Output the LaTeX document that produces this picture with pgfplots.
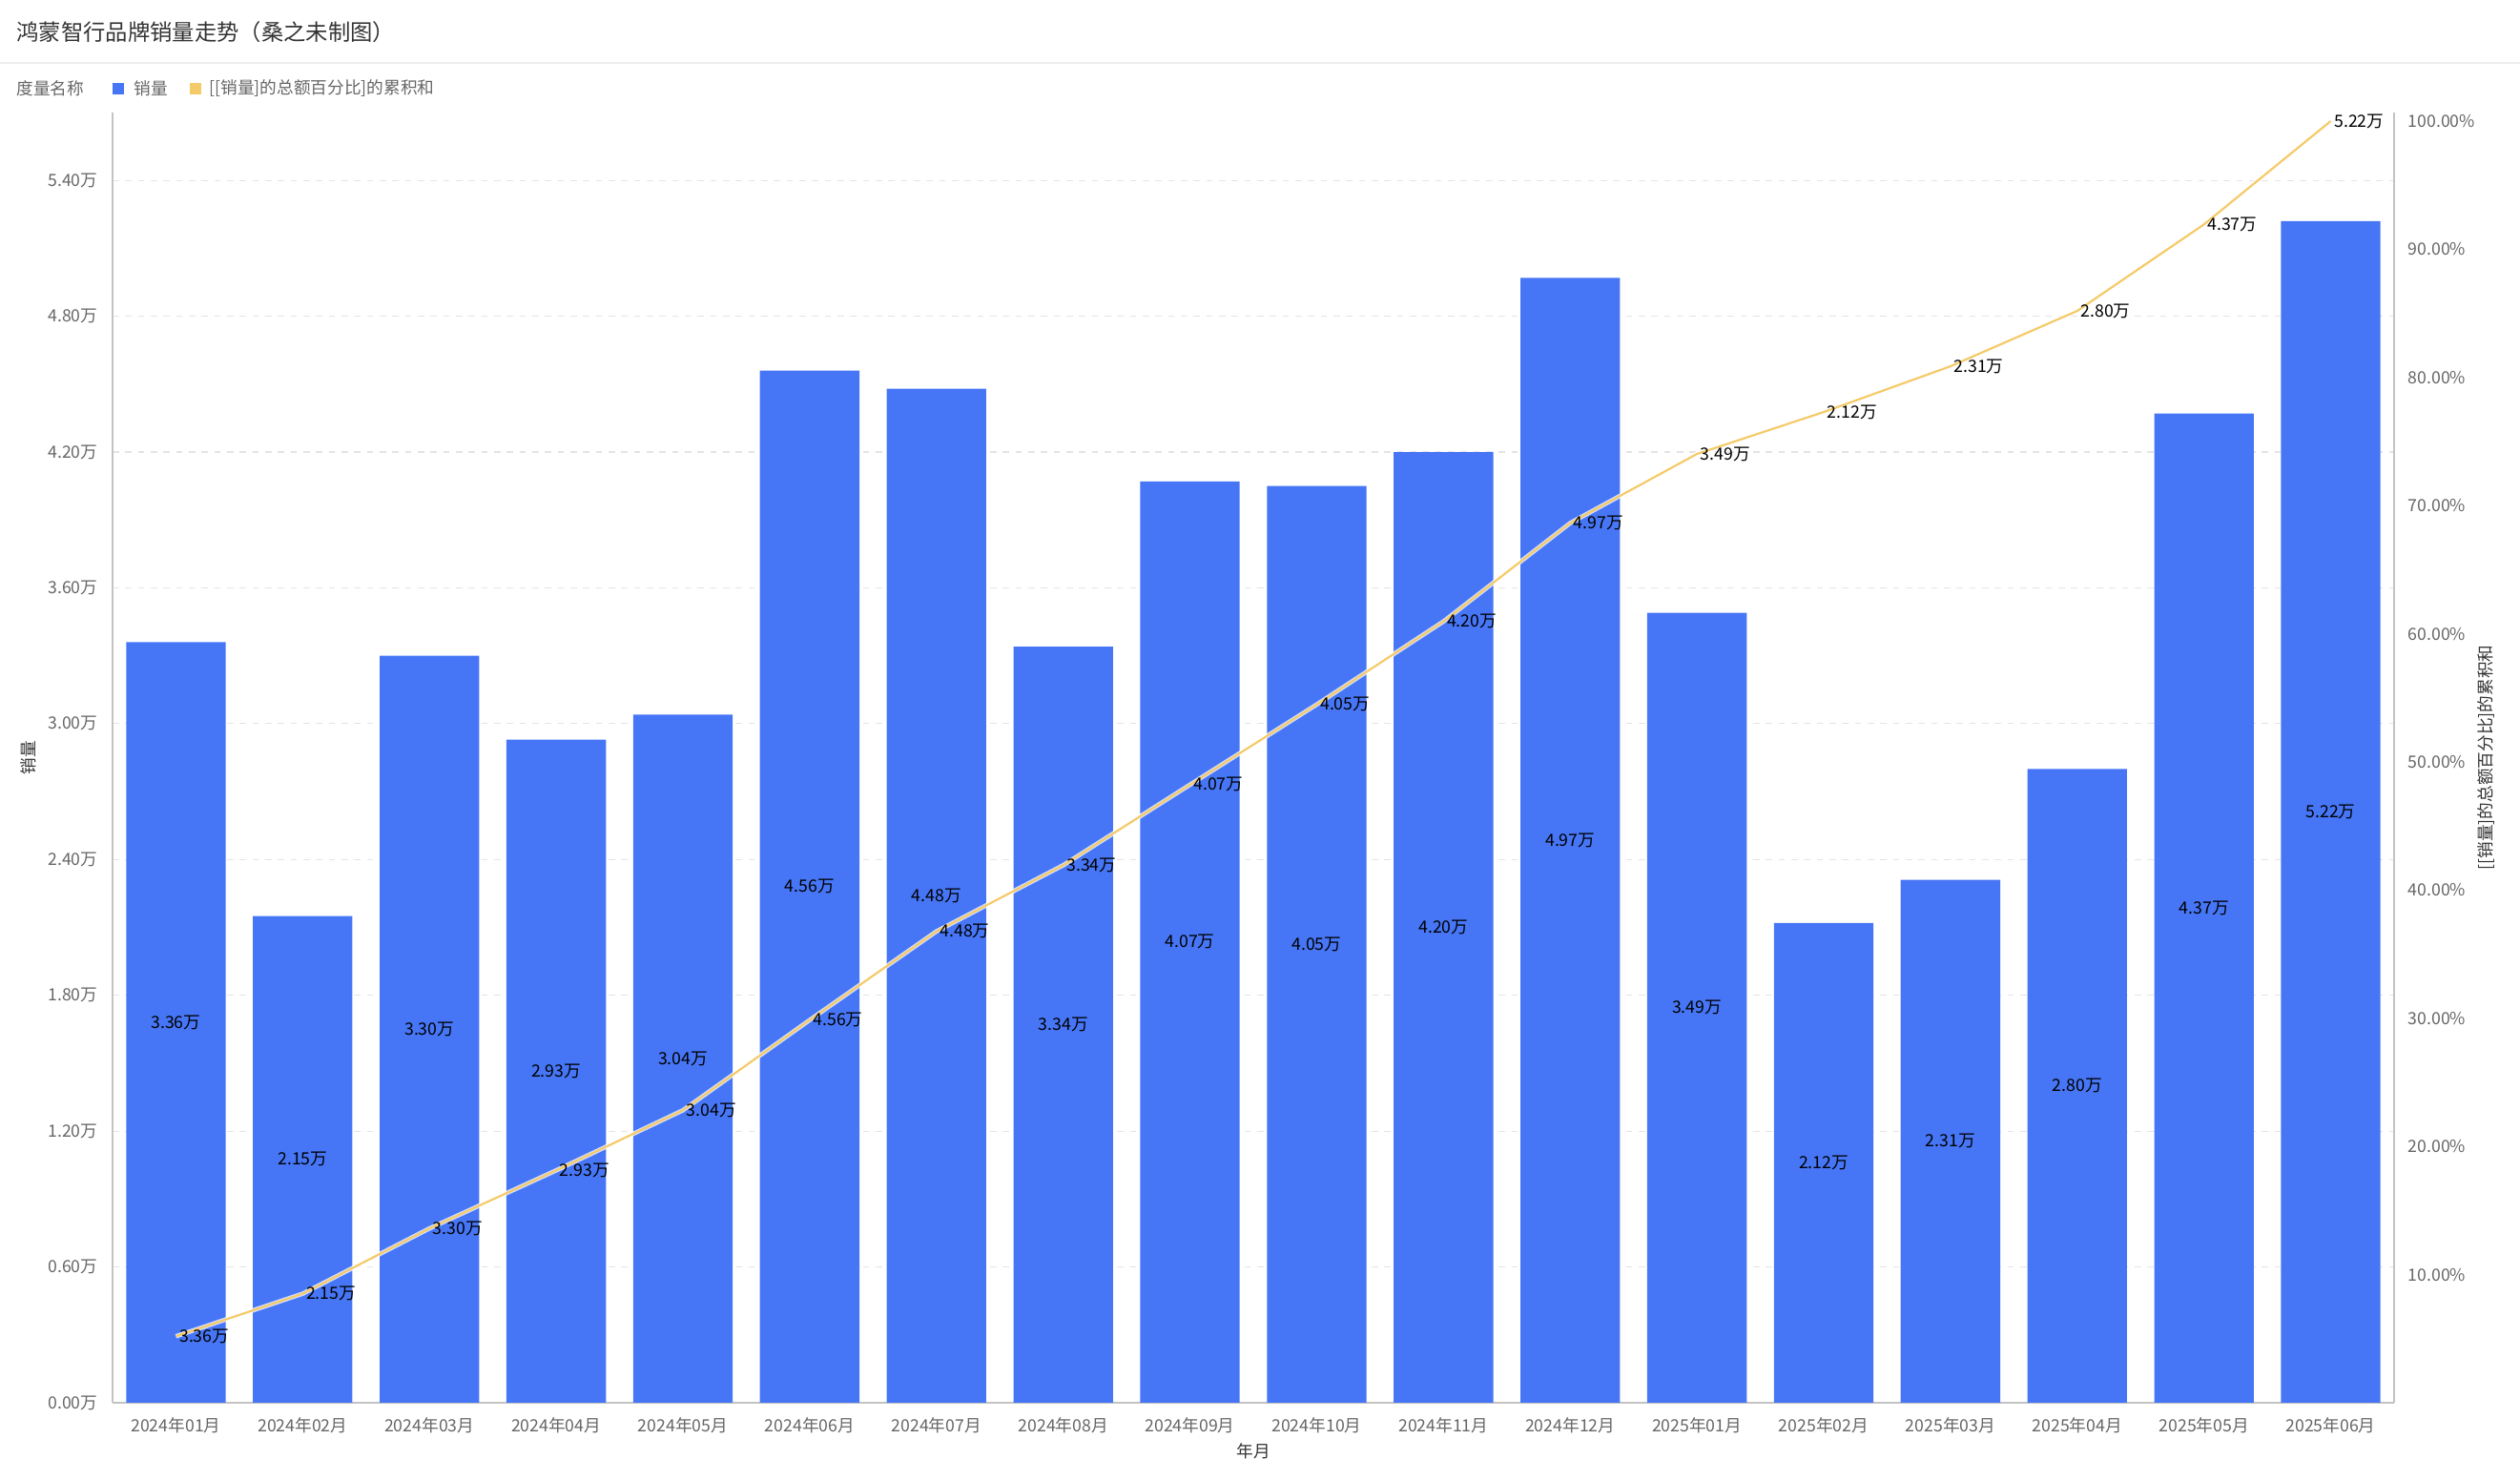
\documentclass[border=0pt]{standalone}
\usepackage{fontspec}
\setmainfont{Noto Sans CJK SC}
\usepackage{pgfplots}
\pgfplotsset{compat=1.18}
\definecolor{barblue}{RGB}{70,118,246}
\definecolor{lineyel}{RGB}{245,202,104}
\definecolor{tickgray}{RGB}{102,102,102}
\definecolor{titlegray}{RGB}{51,51,51}
\definecolor{axisgray}{RGB}{195,195,195}
\definecolor{gridgray}{RGB}{228,228,228}
\definecolor{sepgray}{RGB}{238,238,238}
\newcommand{\smallf}{\fontsize{5.3}{6}\selectfont}
\begin{document}
\begin{tikzpicture}
\pgfplotsset{
  /pgf/number format/assume math mode=true,
  common/.style={scale only axis, width=717.6pt, height=405.9pt,
    xmin=-0.5, xmax=17.5, at={(0,0)}, anchor=south west,
    major tick length=0pt,
    tick label style={font=\smallf, text=tickgray, inner sep=0pt},
    axis line style={axisgray, line width=0.4pt},
  },
}
\begin{axis}[common,
  ymin=0, ymax=5.7,
  axis x line*=bottom, axis y line*=left,
  xtick={0,...,17},
  xticklabels={2024年01月,2024年02月,2024年03月,2024年04月,2024年05月,2024年06月,2024年07月,2024年08月,2024年09月,2024年10月,2024年11月,2024年12月,2025年01月,2025年02月,2025年03月,2025年04月,2025年05月,2025年06月},
  xticklabel style={anchor=center, yshift=-7.2pt},
  ytick={0,0.6,1.2,1.8,2.4,3.0,3.6,4.2,4.8,5.4},
  yticklabel={\pgfmathprintnumber[fixed,fixed zerofill,precision=2]{\tick}万},
  yticklabel style={anchor=east, xshift=-4.5pt},
  ymajorgrids,
  grid style={gridgray, line width=0.35pt, dash pattern=on 2pt off 2pt},
  xlabel={年月},
  every axis x label/.style={at={(rel axis cs:0.5,0)}, yshift=-15.3pt, anchor=center, font=\smallf, text=titlegray},
  ylabel={销量},
  every axis y label/.style={at={(rel axis cs:0,0.5)}, xshift=-26.4pt, rotate=90, anchor=center, font=\smallf, text=titlegray},
]
\addplot[ybar, bar width=0.785, fill=barblue, draw=none,
  nodes near coords, point meta=explicit symbolic,
  visualization depends on={y \as \rawy},
  every node near coord/.append style={anchor=center, yshift={-35.605pt*\rawy}, font=\smallf, text=black, inner sep=0pt}]
coordinates {
(0,3.36)[3.36万] (1,2.15)[2.15万] (2,3.30)[3.30万] (3,2.93)[2.93万]
(4,3.04)[3.04万] (5,4.56)[4.56万] (6,4.48)[4.48万] (7,3.34)[3.34万]
(8,4.07)[4.07万] (9,4.05)[4.05万] (10,4.20)[4.20万] (11,4.97)[4.97万]
(12,3.49)[3.49万] (13,2.12)[2.12万] (14,2.31)[2.31万] (15,2.80)[2.80万]
(16,4.37)[4.37万] (17,5.22)[5.22万]
};
\end{axis}
\begin{axis}[common,
  ymin=0, ymax=100.67,
  axis y line*=right, axis x line=none,
  ytick={10,20,30,40,50,60,70,80,90,100},
  yticklabel={\pgfmathprintnumber[fixed,fixed zerofill,precision=2]{\tick}\%},
  yticklabel style={anchor=west, xshift=4.2pt},
  ylabel={[[销量]的总额百分比]的累积和},
  every axis y label/.style={at={(rel axis cs:1,0.5)}, xshift=29.1pt, rotate=90, anchor=center, font=\smallf, text=titlegray},
  clip=false,
]
\addplot[white, opacity=0.75, line width=1.4pt] coordinates {
(0,5.19) (1,8.51) (2,13.60) (3,18.13) (4,22.82) (5,29.86) (6,36.78) (7,41.94)
(8,48.22) (9,54.48) (10,60.96) (11,68.64) (12,74.03) (13,77.30) (14,80.87)
(15,85.19) (16,91.94) (17,100.00)
};
\addplot[lineyel, line width=0.65pt,
  nodes near coords, point meta=explicit symbolic,
  every node near coord/.append style={anchor=west, xshift=0.8pt, font=\smallf, text=black, inner sep=0pt}]
coordinates {
(0,5.19)[3.36万] (1,8.51)[2.15万] (2,13.60)[3.30万] (3,18.13)[2.93万]
(4,22.82)[3.04万] (5,29.86)[4.56万] (6,36.78)[4.48万] (7,41.94)[3.34万]
(8,48.22)[4.07万] (9,54.48)[4.05万] (10,60.96)[4.20万] (11,68.64)[4.97万]
(12,74.03)[3.49万] (13,77.30)[2.12万] (14,80.87)[2.31万] (15,85.19)[2.80万]
(16,91.94)[4.37万] (17,100.00)[5.22万]
};
\end{axis}
% title, separator, legend
\node[anchor=west, inner sep=0pt, font=\fontsize{7}{8}\selectfont, text=titlegray] at (-30.3pt,431.1pt) {鸿蒙智行品牌销量走势（桑之未制图）};
\draw[sepgray, line width=0.4pt] (-35.4pt,421.5pt) -- (757.2pt,421.5pt);
\node[anchor=west, inner sep=0pt, font=\smallf, text=tickgray] at (-30.3pt,413.4pt) {度量名称};
\fill[barblue] (0pt,411.6pt) rectangle (3.6pt,415.2pt);
\node[anchor=west, inner sep=0pt, font=\smallf, text=tickgray] at (6.6pt,413.4pt) {销量};
\fill[lineyel] (24.3pt,411.6pt) rectangle (27.9pt,415.2pt);
\node[anchor=west, inner sep=0pt, font=\smallf, text=tickgray] at (30.3pt,413.4pt) {[[销量]的总额百分比]的累积和};
\pgfresetboundingbox
\path[use as bounding box] (-35.4pt,-24.3pt) rectangle (757.2pt,441.3pt);
\end{tikzpicture}
\end{document}
